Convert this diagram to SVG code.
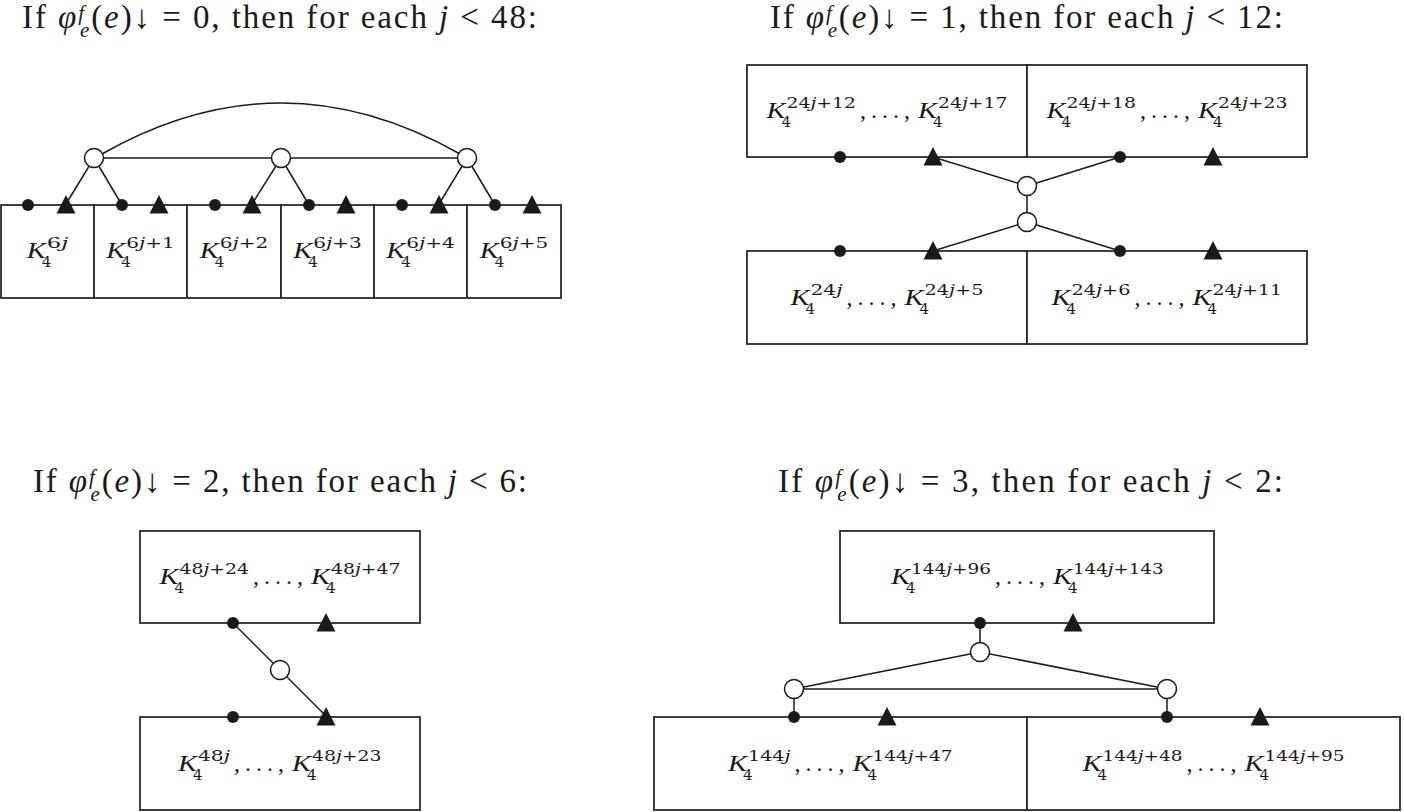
<svg xmlns="http://www.w3.org/2000/svg" width="1404" height="812" viewBox="0 0 1404 812">
<defs>
<style>
.bx{fill:#fff;stroke:#2a2a2a;stroke-width:1.8}
.ln{fill:none;stroke:#1a1a1a;stroke-width:1.5}
.oc{fill:#fff;stroke:#1a1a1a;stroke-width:1.5}
.dot{fill:#1a1a1a}
.tri{fill:#1a1a1a}
text{fill:#1a1a1a}
.h{font-family:"Liberation Serif",serif;font-size:33px}
.i{font-style:italic}
.hs{font-size:21px}
.k{font-family:"Liberation Serif",serif;font-style:italic;font-size:24px}
.sc{font-family:"DejaVu Serif",serif;font-size:15px}
.sb{font-family:"DejaVu Serif",serif;font-size:15px}
.dt{font-family:"Liberation Serif",serif;font-size:24px}
</style>
<circle id="d" r="6" class="dot"/>
<path id="t" d="M0,-10 L9.5,8.5 L-9.5,8.5 Z" class="tri"/>
</defs>

<g id="headings">
<text class="h" x="22" y="28" textLength="515" lengthAdjust="spacing">If <tspan class="i">φ</tspan><tspan class="i hs" dy="-8">f</tspan><tspan class="i hs" dx="-6" dy="17">e</tspan><tspan dy="-9">(</tspan><tspan class="i">e</tspan>)↓ = 0, then for each <tspan class="i">j</tspan> &lt; 48:</text>
<text class="h" x="770" y="28" textLength="513" lengthAdjust="spacing">If <tspan class="i">φ</tspan><tspan class="i hs" dy="-8">f</tspan><tspan class="i hs" dx="-6" dy="17">e</tspan><tspan dy="-9">(</tspan><tspan class="i">e</tspan>)↓ = 1, then for each <tspan class="i">j</tspan> &lt; 12:</text>
<text class="h" x="33" y="492" textLength="494" lengthAdjust="spacing">If <tspan class="i">φ</tspan><tspan class="i hs" dy="-8">f</tspan><tspan class="i hs" dx="-6" dy="17">e</tspan><tspan dy="-9">(</tspan><tspan class="i">e</tspan>)↓ = 2, then for each <tspan class="i">j</tspan> &lt; 6:</text>
<text class="h" x="778" y="492" textLength="505" lengthAdjust="spacing">If <tspan class="i">φ</tspan><tspan class="i hs" dy="-8">f</tspan><tspan class="i hs" dx="-6" dy="17">e</tspan><tspan dy="-9">(</tspan><tspan class="i">e</tspan>)↓ = 3, then for each <tspan class="i">j</tspan> &lt; 2:</text>
</g>

<g id="connectors">
<path class="ln" d="M102,154 Q281,52 460,154"/>
<line class="ln" x1="94" y1="158" x2="467" y2="158"/>
<line class="ln" x1="94" y1="158" x2="66" y2="204"/>
<line class="ln" x1="94" y1="158" x2="122" y2="205"/>
<line class="ln" x1="281" y1="158" x2="252" y2="204"/>
<line class="ln" x1="281" y1="158" x2="309" y2="205"/>
<line class="ln" x1="467" y1="158" x2="439" y2="204"/>
<line class="ln" x1="467" y1="158" x2="495" y2="205"/>

<line class="ln" x1="933" y1="157" x2="1027" y2="186"/>
<line class="ln" x1="1120" y1="157" x2="1027" y2="186"/>
<line class="ln" x1="1027" y1="186" x2="1027" y2="222"/>
<line class="ln" x1="1027" y1="222" x2="933" y2="251"/>
<line class="ln" x1="1027" y1="222" x2="1120" y2="251"/>

<line class="ln" x1="233" y1="623" x2="326" y2="716"/>

<line class="ln" x1="980" y1="623" x2="980" y2="652"/>
<line class="ln" x1="980" y1="652" x2="794" y2="689"/>
<line class="ln" x1="980" y1="652" x2="1167" y2="689"/>
<line class="ln" x1="794" y1="689" x2="1167" y2="689"/>
<line class="ln" x1="794" y1="689" x2="794" y2="717"/>
<line class="ln" x1="1167" y1="689" x2="1167" y2="717"/>
</g>

<!-- Panel 1 boxes -->
<g id="p1-b0">
<rect class="bx" x="1" y="205" width="93" height="93"/>
<text class="k" x="26.75" y="258" textLength="19" lengthAdjust="spacingAndGlyphs">K</text>
<text class="sb" x="41.75" y="267">4</text>
<text class="sc" x="46.75" y="248" textLength="21.5" lengthAdjust="spacingAndGlyphs">6<tspan class="i">j</tspan></text>
<use href="#d" x="28" y="205"/><use href="#t" x="66" y="205"/>
</g>
<g id="p1-b1">
<rect class="bx" x="94" y="205" width="93" height="93"/>
<text class="k" x="106.25" y="258" textLength="19" lengthAdjust="spacingAndGlyphs">K</text>
<text class="sb" x="121.25" y="267">4</text>
<text class="sc" x="126.25" y="248" textLength="48.5" lengthAdjust="spacingAndGlyphs">6<tspan class="i">j</tspan>+1</text>
<use href="#d" x="122" y="205"/><use href="#t" x="159" y="205"/>
</g>
<g id="p1-b2">
<rect class="bx" x="187" y="205" width="94" height="93"/>
<text class="k" x="199.75" y="258" textLength="19" lengthAdjust="spacingAndGlyphs">K</text>
<text class="sb" x="214.75" y="267">4</text>
<text class="sc" x="219.75" y="248" textLength="48.5" lengthAdjust="spacingAndGlyphs">6<tspan class="i">j</tspan>+2</text>
<use href="#d" x="215" y="205"/><use href="#t" x="252" y="205"/>
</g>
<g id="p1-b3">
<rect class="bx" x="281" y="205" width="93" height="93"/>
<text class="k" x="293.25" y="258" textLength="19" lengthAdjust="spacingAndGlyphs">K</text>
<text class="sb" x="308.25" y="267">4</text>
<text class="sc" x="313.25" y="248" textLength="48.5" lengthAdjust="spacingAndGlyphs">6<tspan class="i">j</tspan>+3</text>
<use href="#d" x="309" y="205"/><use href="#t" x="346" y="205"/>
</g>
<g id="p1-b4">
<rect class="bx" x="374" y="205" width="93" height="93"/>
<text class="k" x="386.25" y="258" textLength="19" lengthAdjust="spacingAndGlyphs">K</text>
<text class="sb" x="401.25" y="267">4</text>
<text class="sc" x="406.25" y="248" textLength="48.5" lengthAdjust="spacingAndGlyphs">6<tspan class="i">j</tspan>+4</text>
<use href="#d" x="402" y="205"/><use href="#t" x="439" y="205"/>
</g>
<g id="p1-b5">
<rect class="bx" x="467" y="205" width="94" height="93"/>
<text class="k" x="479.75" y="258" textLength="19" lengthAdjust="spacingAndGlyphs">K</text>
<text class="sb" x="494.75" y="267">4</text>
<text class="sc" x="499.75" y="248" textLength="48.5" lengthAdjust="spacingAndGlyphs">6<tspan class="i">j</tspan>+5</text>
<use href="#d" x="495" y="205"/><use href="#t" x="532" y="205"/>
</g>
<g id="p1-c0"><circle class="oc" cx="94" cy="158" r="9.5"/></g>
<g id="p1-c1"><circle class="oc" cx="281" cy="158" r="9.5"/></g>
<g id="p1-c2"><circle class="oc" cx="467" cy="158" r="9.5"/></g>

<!-- Panel 2 -->
<g id="p2-ul">
<rect class="bx" x="747" y="65" width="280" height="92"/>
<text class="k" x="766.5" y="118" textLength="19" lengthAdjust="spacingAndGlyphs">K</text>
<text class="sb" x="781.5" y="127">4</text>
<text class="sc" x="786.5" y="108" textLength="69.5" lengthAdjust="spacingAndGlyphs">24<tspan class="i">j</tspan>+12</text>
<text class="dt" x="860" y="118" textLength="50" lengthAdjust="spacing">, . . . ,</text>
<text class="k" x="918" y="118" textLength="19" lengthAdjust="spacingAndGlyphs">K</text>
<text class="sb" x="933" y="127">4</text>
<text class="sc" x="938" y="108" textLength="69.5" lengthAdjust="spacingAndGlyphs">24<tspan class="i">j</tspan>+17</text>
<use href="#d" x="840" y="157"/><use href="#t" x="933" y="157"/>
</g>
<g id="p2-ur">
<rect class="bx" x="1027" y="65" width="280" height="92"/>
<text class="k" x="1046.5" y="118" textLength="19" lengthAdjust="spacingAndGlyphs">K</text>
<text class="sb" x="1061.5" y="127">4</text>
<text class="sc" x="1066.5" y="108" textLength="69.5" lengthAdjust="spacingAndGlyphs">24<tspan class="i">j</tspan>+18</text>
<text class="dt" x="1140" y="118" textLength="50" lengthAdjust="spacing">, . . . ,</text>
<text class="k" x="1198" y="118" textLength="19" lengthAdjust="spacingAndGlyphs">K</text>
<text class="sb" x="1213" y="127">4</text>
<text class="sc" x="1218" y="108" textLength="69.5" lengthAdjust="spacingAndGlyphs">24<tspan class="i">j</tspan>+23</text>
<use href="#d" x="1120" y="157"/><use href="#t" x="1213" y="157"/>
</g>
<g id="p2-ll">
<rect class="bx" x="747" y="251" width="280" height="93"/>
<text class="k" x="790.5" y="304.5" textLength="19" lengthAdjust="spacingAndGlyphs">K</text>
<text class="sb" x="805.5" y="313.5">4</text>
<text class="sc" x="810.5" y="294.5" textLength="32" lengthAdjust="spacingAndGlyphs">24<tspan class="i">j</tspan></text>
<text class="dt" x="846.5" y="304.5" textLength="50" lengthAdjust="spacing">, . . . ,</text>
<text class="k" x="904.5" y="304.5" textLength="19" lengthAdjust="spacingAndGlyphs">K</text>
<text class="sb" x="919.5" y="313.5">4</text>
<text class="sc" x="924.5" y="294.5" textLength="59" lengthAdjust="spacingAndGlyphs">24<tspan class="i">j</tspan>+5</text>
<use href="#d" x="840" y="251"/><use href="#t" x="933" y="251"/>
</g>
<g id="p2-lr">
<rect class="bx" x="1027" y="251" width="280" height="93"/>
<text class="k" x="1051.5" y="304.5" textLength="19" lengthAdjust="spacingAndGlyphs">K</text>
<text class="sb" x="1066.5" y="313.5">4</text>
<text class="sc" x="1071.5" y="294.5" textLength="59" lengthAdjust="spacingAndGlyphs">24<tspan class="i">j</tspan>+6</text>
<text class="dt" x="1134.5" y="304.5" textLength="50" lengthAdjust="spacing">, . . . ,</text>
<text class="k" x="1192.5" y="304.5" textLength="19" lengthAdjust="spacingAndGlyphs">K</text>
<text class="sb" x="1207.5" y="313.5">4</text>
<text class="sc" x="1212.5" y="294.5" textLength="69.5" lengthAdjust="spacingAndGlyphs">24<tspan class="i">j</tspan>+11</text>
<use href="#d" x="1120" y="251"/><use href="#t" x="1213" y="251"/>
</g>
<g id="p2-c0"><circle class="oc" cx="1027" cy="186" r="9.5"/></g>
<g id="p2-c1"><circle class="oc" cx="1027" cy="222" r="9.5"/></g>

<!-- Panel 3 -->
<g id="p3-u">
<rect class="bx" x="140" y="531" width="280" height="92"/>
<text class="k" x="159.5" y="584" textLength="19" lengthAdjust="spacingAndGlyphs">K</text>
<text class="sb" x="174.5" y="593">4</text>
<text class="sc" x="179.5" y="574" textLength="69.5" lengthAdjust="spacingAndGlyphs">48<tspan class="i">j</tspan>+24</text>
<text class="dt" x="253" y="584" textLength="50" lengthAdjust="spacing">, . . . ,</text>
<text class="k" x="311" y="584" textLength="19" lengthAdjust="spacingAndGlyphs">K</text>
<text class="sb" x="326" y="593">4</text>
<text class="sc" x="331" y="574" textLength="69.5" lengthAdjust="spacingAndGlyphs">48<tspan class="i">j</tspan>+47</text>
<use href="#d" x="233" y="623"/><use href="#t" x="326" y="623"/>
</g>
<g id="p3-l">
<rect class="bx" x="140" y="717" width="280" height="93"/>
<text class="k" x="178" y="770.5" textLength="19" lengthAdjust="spacingAndGlyphs">K</text>
<text class="sb" x="193" y="779.5">4</text>
<text class="sc" x="198" y="760.5" textLength="32" lengthAdjust="spacingAndGlyphs">48<tspan class="i">j</tspan></text>
<text class="dt" x="234" y="770.5" textLength="50" lengthAdjust="spacing">, . . . ,</text>
<text class="k" x="292" y="770.5" textLength="19" lengthAdjust="spacingAndGlyphs">K</text>
<text class="sb" x="307" y="779.5">4</text>
<text class="sc" x="312" y="760.5" textLength="69.5" lengthAdjust="spacingAndGlyphs">48<tspan class="i">j</tspan>+23</text>
<use href="#d" x="233" y="717"/><use href="#t" x="326" y="717"/>
</g>
<g id="p3-c0"><circle class="oc" cx="280" cy="670" r="9.5"/></g>

<!-- Panel 4 -->
<g id="p4-u">
<rect class="bx" x="840" y="531" width="374" height="92"/>
<text class="k" x="891" y="584" textLength="19" lengthAdjust="spacingAndGlyphs">K</text>
<text class="sb" x="906" y="593">4</text>
<text class="sc" x="911" y="574" textLength="80" lengthAdjust="spacingAndGlyphs">144<tspan class="i">j</tspan>+96</text>
<text class="dt" x="995" y="584" textLength="50" lengthAdjust="spacing">, . . . ,</text>
<text class="k" x="1053" y="584" textLength="19" lengthAdjust="spacingAndGlyphs">K</text>
<text class="sb" x="1068" y="593">4</text>
<text class="sc" x="1073" y="574" textLength="90.5" lengthAdjust="spacingAndGlyphs">144<tspan class="i">j</tspan>+143</text>
<use href="#d" x="980" y="623"/><use href="#t" x="1073" y="623"/>
</g>
<g id="p4-ll">
<rect class="bx" x="654" y="717" width="373" height="93"/>
<text class="k" x="728" y="770.5" textLength="19" lengthAdjust="spacingAndGlyphs">K</text>
<text class="sb" x="743" y="779.5">4</text>
<text class="sc" x="748" y="760.5" textLength="42.5" lengthAdjust="spacingAndGlyphs">144<tspan class="i">j</tspan></text>
<text class="dt" x="794.5" y="770.5" textLength="50" lengthAdjust="spacing">, . . . ,</text>
<text class="k" x="852.5" y="770.5" textLength="19" lengthAdjust="spacingAndGlyphs">K</text>
<text class="sb" x="867.5" y="779.5">4</text>
<text class="sc" x="872.5" y="760.5" textLength="80" lengthAdjust="spacingAndGlyphs">144<tspan class="i">j</tspan>+47</text>
<use href="#d" x="794" y="717"/><use href="#t" x="887" y="717"/>
</g>
<g id="p4-lr">
<rect class="bx" x="1027" y="717" width="373" height="93"/>
<text class="k" x="1082.5" y="770.5" textLength="19" lengthAdjust="spacingAndGlyphs">K</text>
<text class="sb" x="1097.5" y="779.5">4</text>
<text class="sc" x="1102.5" y="760.5" textLength="80" lengthAdjust="spacingAndGlyphs">144<tspan class="i">j</tspan>+48</text>
<text class="dt" x="1186.5" y="770.5" textLength="50" lengthAdjust="spacing">, . . . ,</text>
<text class="k" x="1244.5" y="770.5" textLength="19" lengthAdjust="spacingAndGlyphs">K</text>
<text class="sb" x="1259.5" y="779.5">4</text>
<text class="sc" x="1264.5" y="760.5" textLength="80" lengthAdjust="spacingAndGlyphs">144<tspan class="i">j</tspan>+95</text>
<use href="#d" x="1167" y="717"/><use href="#t" x="1260" y="717"/>
</g>
<g id="p4-c0"><circle class="oc" cx="980" cy="652" r="9.5"/></g>
<g id="p4-c1"><circle class="oc" cx="794" cy="689" r="9.5"/></g>
<g id="p4-c2"><circle class="oc" cx="1167" cy="689" r="9.5"/></g>
</svg>
